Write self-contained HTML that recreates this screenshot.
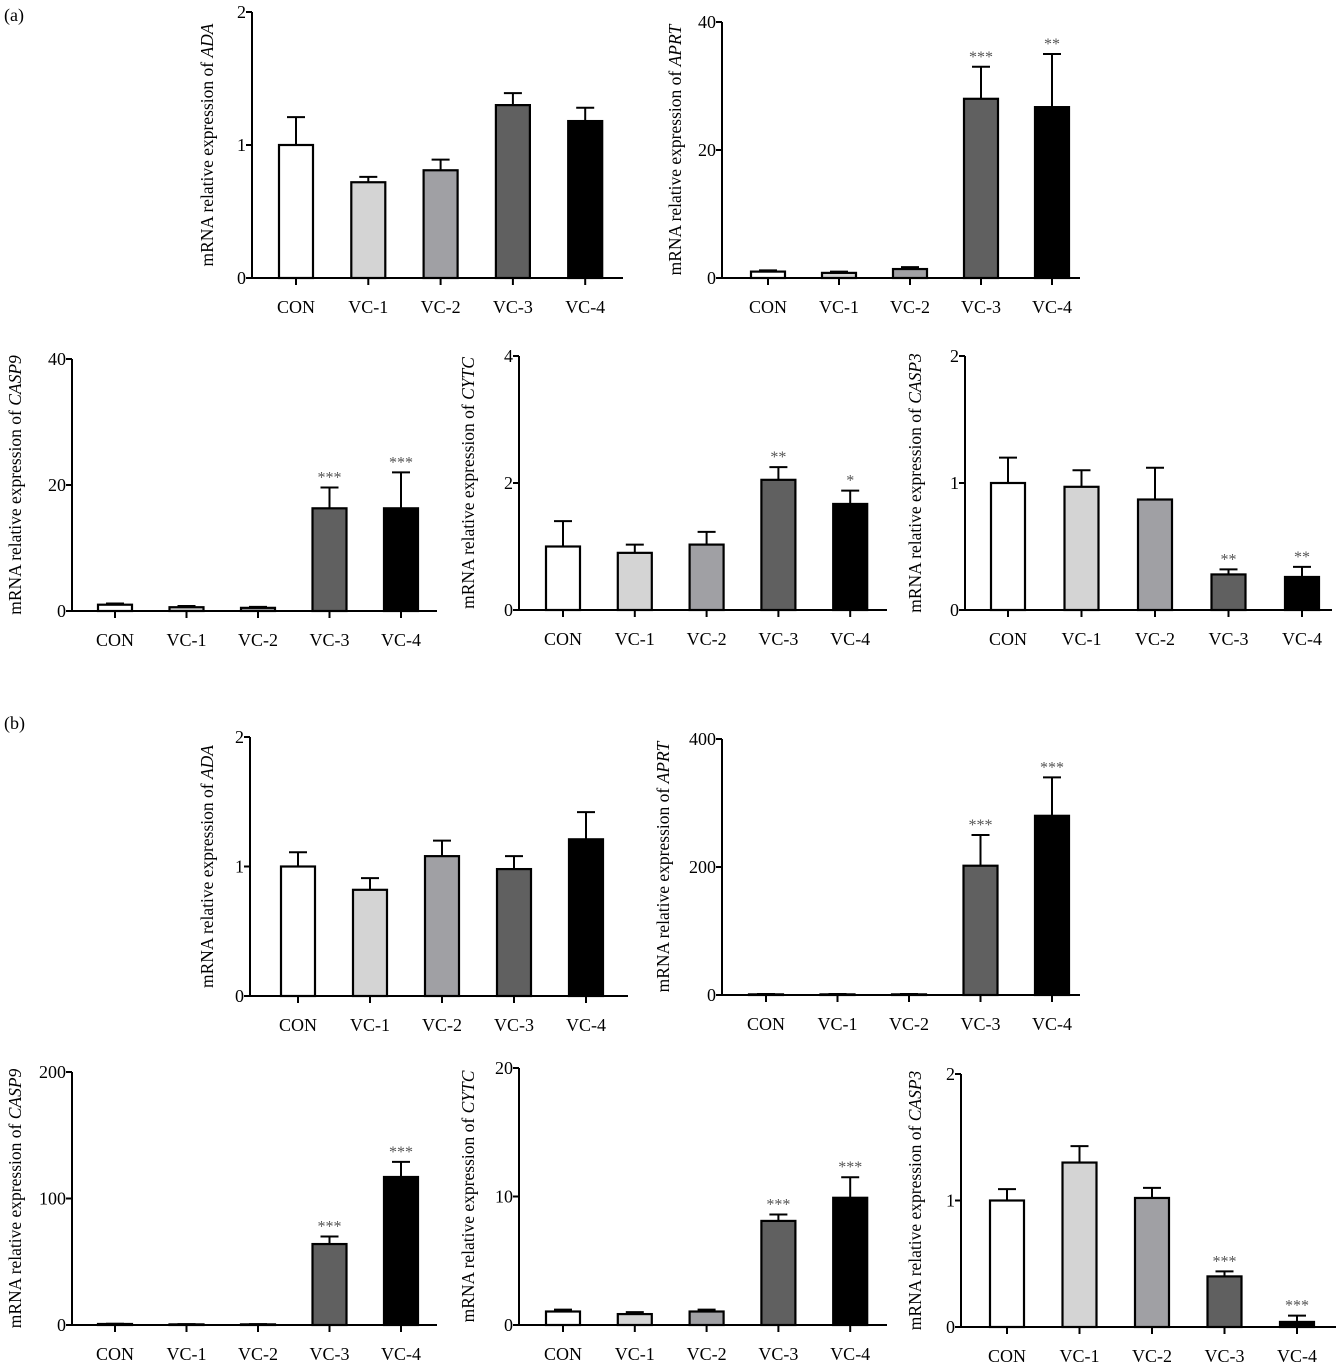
<!DOCTYPE html>
<html><head><meta charset="utf-8">
<style>
html,body{margin:0;padding:0;background:#fff;}
svg{display:block;font-family:"Liberation Serif",serif;}
</style></head>
<body>
<svg id="fig" width="1336" height="1364" viewBox="0 0 1336 1364" xmlns="http://www.w3.org/2000/svg">
<text x="4" y="21" font-size="18">(a)</text>
<text x="4" y="729" font-size="18">(b)</text>
</svg>
<script>
const categories = ["CON","VC-1","VC-2","VC-3","VC-4"];
const fills = ["#ffffff","#d4d4d4","#a0a0a4","#606060","#000000"];
const aADA = [1, 0.72, 0.81, 1.3, 1.18];
const aADAerr = [1.21, 0.76, 0.89, 1.39, 1.28];
const aAPRT = [1, 0.8, 1.4, 28, 26.7];
const aAPRTerr = [1.2, 1.0, 1.7, 33, 35];
const aCASP9 = [1, 0.6, 0.5, 16.3, 16.3];
const aCASP9err = [1.2, 0.8, 0.65, 19.6, 22];
const aCYTC = [1, 0.9, 1.03, 2.05, 1.67];
const aCYTCerr = [1.4, 1.03, 1.23, 2.25, 1.88];
const aCASP3 = [1, 0.97, 0.87, 0.28, 0.26];
const aCASP3err = [1.2, 1.1, 1.12, 0.32, 0.34];
const bADA = [1, 0.82, 1.08, 0.98, 1.21];
const bADAerr = [1.11, 0.91, 1.2, 1.08, 1.42];
const bAPRT = [1, 1, 1, 202, 280];
const bAPRTerr = [1.5, 1.5, 1.5, 250, 340];
const bCASP9 = [0.8, 0.5, 0.5, 64, 117];
const bCASP9err = [1, 0.7, 0.7, 70, 129];
const bCYTC = [1.05, 0.85, 1.05, 8.1, 9.9];
const bCYTCerr = [1.2, 1.0, 1.2, 8.6, 11.5];
const bCASP3 = [1, 1.3, 1.02, 0.4, 0.04];
const bCASP3err = [1.09, 1.43, 1.1, 0.44, 0.09];
const aStars = {APRT:["","","","***","**"], CASP9:["","","","***","***"], CYTC:["","","","**","*"], CASP3:["","","","**","**"]};
const bStars = {APRT:["","","","***","***"], CASP9:["","","","***","***"], CYTC:["","","","***","***"], CASP3:["","","","***","***"]};
const ticksA = {ADA:[0,1,2], APRT:[0,20,40], CASP9:[0,20,40], CYTC:[0,2,4], CASP3:[0,1,2]};
const ticksB = {ADA:[0,1,2], APRT:[0,200,400], CASP9:[0,100,200], CYTC:[0,10,20], CASP3:[0,1,2]};

const NS="http://www.w3.org/2000/svg";
const svg=document.getElementById('fig');
function mk(tag,attrs,parent){const e=document.createElementNS(NS,tag);for(const k in attrs)e.setAttribute(k,attrs[k]);(parent||svg).appendChild(e);return e;}

const panels=[
 {id:"a-ada",gene:"ADA",v:aADA,e:aADAerr,s:null,t:ticksA.ADA,ax:252,top:12,zero:278,x0:296,step:72.3,end:623,tx:213},
 {id:"a-aprt",gene:"APRT",v:aAPRT,e:aAPRTerr,s:aStars.APRT,t:ticksA.APRT,ax:722,top:22,zero:278,x0:768,step:71,end:1080,tx:681},
 {id:"a-casp9",gene:"CASP9",v:aCASP9,e:aCASP9err,s:aStars.CASP9,t:ticksA.CASP9,ax:72,top:359,zero:611,x0:115,step:71.5,end:437,tx:21},
 {id:"a-cytc",gene:"CYTC",v:aCYTC,e:aCYTCerr,s:aStars.CYTC,t:ticksA.CYTC,ax:519,top:356,zero:610,x0:563,step:71.8,end:887,tx:474},
 {id:"a-casp3",gene:"CASP3",v:aCASP3,e:aCASP3err,s:aStars.CASP3,t:ticksA.CASP3,ax:965,top:356,zero:610,x0:1008,step:73.5,end:1332,tx:921},
 {id:"b-ada",gene:"ADA",v:bADA,e:bADAerr,s:null,t:ticksB.ADA,ax:250,top:737,zero:996,x0:298,step:72,end:628,tx:213},
 {id:"b-aprt",gene:"APRT",v:bAPRT,e:bAPRTerr,s:bStars.APRT,t:ticksB.APRT,ax:722,top:739,zero:995,x0:766,step:71.5,end:1080,tx:669},
 {id:"b-casp9",gene:"CASP9",v:bCASP9,e:bCASP9err,s:bStars.CASP9,t:ticksB.CASP9,ax:72,top:1072,zero:1325,x0:115,step:71.5,end:437,tx:21},
 {id:"b-cytc",gene:"CYTC",v:bCYTC,e:bCYTCerr,s:bStars.CYTC,t:ticksB.CYTC,ax:519,top:1068,zero:1325,x0:563,step:71.8,end:887,tx:474},
 {id:"b-casp3",gene:"CASP3",v:bCASP3,e:bCASP3err,s:bStars.CASP3,t:ticksB.CASP3,ax:961,top:1074,zero:1327,x0:1007,step:72.5,end:1336,tx:921}
];

panels.forEach(p=>{
  const g=mk('g',{});
  
  
  const max=p.t[p.t.length-1];
  const y=v=>p.zero-(v/max)*(p.zero-p.top);
  const x=i=>p.x0+i*p.step;
  const bw=34;
  p.v.forEach((val,i)=>{
    const yt=y(p.e[i]), yv=y(val);
    const eb=mk('g',{},g);
    
    
    mk('line',{x1:x(i),x2:x(i),y1:yv,y2:yt,stroke:'#000','stroke-width':2},eb);
    mk('line',{x1:x(i)-9,x2:x(i)+9,y1:yt,y2:yt,stroke:'#000','stroke-width':2},eb);
    const r=mk('rect',{x:x(i)-bw/2,y:yv,width:bw,height:Math.max(p.zero-yv,0.5),fill:fills[i],stroke:'#000','stroke-width':2.2},g);
    
    
    if(p.s&&p.s[i]){
      const st=mk('text',{x:x(i),y:yt-5,'font-size':16,'text-anchor':'middle',fill:'#555'},g);
      st.textContent=p.s[i];
      
      
    }
    mk('line',{x1:x(i),x2:x(i),y1:p.zero,y2:p.zero+7,stroke:'#000','stroke-width':2},g);
    const lb=mk('text',{x:x(i),y:p.zero+35,'font-size':18,'text-anchor':'middle'},g);
    lb.textContent=categories[i];
    
    
  });
  const ya=mk('line',{x1:p.ax,x2:p.ax,y1:p.top,y2:p.zero+1,stroke:'#000','stroke-width':2},g);
  
  
  const xa=mk('line',{x1:p.ax-6,x2:p.end,y1:p.zero,y2:p.zero,stroke:'#000','stroke-width':2},g);
  
  
  p.t.forEach(tv=>{
    mk('line',{x1:p.ax-6,x2:p.ax,y1:y(tv),y2:y(tv),stroke:'#000','stroke-width':2},g);
    const tl=mk('text',{x:p.ax-6,y:y(tv)+6,'font-size':18,'text-anchor':'end'},g);
    tl.textContent=tv;
    
    
  });
  const cy=(p.top+p.zero)/2;
  const tt=mk('text',{x:p.tx,y:cy,'font-size':17.5,'text-anchor':'middle',transform:`rotate(-90 ${p.tx} ${cy})`},g);
  tt.textContent='mRNA relative expression of ';
  const ts=mk('tspan',{'font-style':'italic'},tt);
  ts.textContent=p.gene;
  
  
});
</script>
</body></html>
